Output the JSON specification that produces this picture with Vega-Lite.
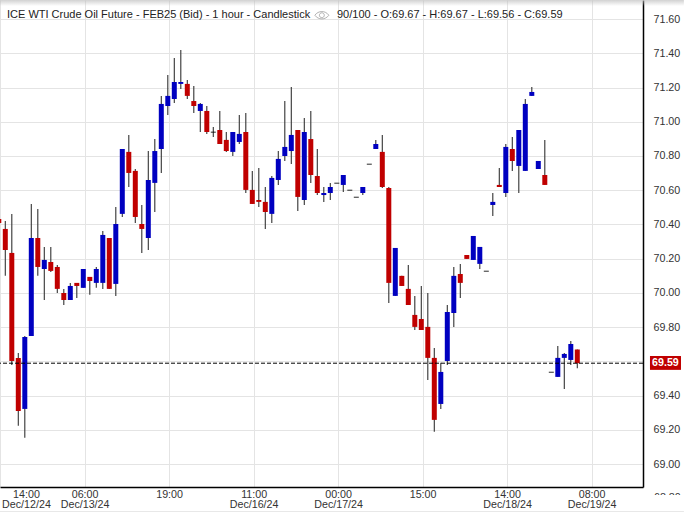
{
"$schema":"https://vega.github.io/schema/vega-lite/v6.json",
"width":643,"height":487,
"autosize":{"type":"none"},
"padding":{"left":0,"top":0,"right":41,"bottom":25},
"background":"white",
"config":{"view":{"stroke":null},"font":"Liberation Sans"},
"datasets":{
"candles":[
{"i":0,"o":70.432,"h":70.432,"l":70.409,"c":70.409},
{"i":1,"o":70.374,"h":70.421,"l":70.100,"c":70.251},
{"i":2,"o":70.234,"h":70.462,"l":69.580,"c":69.603},
{"i":3,"o":69.621,"h":69.650,"l":69.224,"c":69.311},
{"i":4,"o":69.323,"h":69.749,"l":69.154,"c":69.743},
{"i":5,"o":69.749,"h":70.520,"l":69.749,"c":70.321},
{"i":6,"o":70.321,"h":70.491,"l":70.100,"c":70.152},
{"i":7,"o":70.140,"h":70.269,"l":69.959,"c":70.193},
{"i":8,"o":70.181,"h":70.269,"l":70.123,"c":70.129},
{"i":9,"o":70.152,"h":70.164,"l":70.000,"c":70.024},
{"i":10,"o":70.000,"h":70.024,"l":69.930,"c":69.959},
{"i":11,"o":69.959,"h":70.059,"l":69.959,"c":70.041},
{"i":12,"o":70.059,"h":70.059,"l":69.971,"c":70.041},
{"i":13,"o":70.030,"h":70.140,"l":70.030,"c":70.140},
{"i":14,"o":70.094,"h":70.094,"l":69.989,"c":70.070},
{"i":15,"o":70.059,"h":70.152,"l":70.030,"c":70.140},
{"i":16,"o":70.059,"h":70.362,"l":70.024,"c":70.339},
{"i":17,"o":70.321,"h":70.321,"l":70.024,"c":70.024},
{"i":18,"o":70.053,"h":70.502,"l":69.983,"c":70.403},
{"i":19,"o":70.462,"h":70.841,"l":70.444,"c":70.841},
{"i":20,"o":70.824,"h":70.923,"l":70.619,"c":70.701},
{"i":21,"o":70.713,"h":70.724,"l":70.409,"c":70.444},
{"i":22,"o":70.403,"h":70.514,"l":70.234,"c":70.374},
{"i":23,"o":70.321,"h":70.829,"l":70.251,"c":70.660},
{"i":24,"o":70.643,"h":70.899,"l":70.473,"c":70.829},
{"i":25,"o":70.841,"h":71.151,"l":70.701,"c":71.104},
{"i":26,"o":71.092,"h":71.273,"l":71.040,"c":71.151},
{"i":27,"o":71.133,"h":71.372,"l":71.110,"c":71.232},
{"i":28,"o":71.221,"h":71.419,"l":71.191,"c":71.232},
{"i":29,"o":71.221,"h":71.244,"l":71.133,"c":71.151},
{"i":30,"o":71.121,"h":71.209,"l":71.051,"c":71.092},
{"i":31,"o":71.063,"h":71.110,"l":70.940,"c":71.104},
{"i":32,"o":71.063,"h":71.092,"l":70.929,"c":70.940},
{"i":33,"o":70.939,"h":70.969,"l":70.911,"c":70.939},
{"i":34,"o":70.952,"h":71.063,"l":70.870,"c":70.870},
{"i":35,"o":70.894,"h":70.940,"l":70.824,"c":70.829},
{"i":36,"o":70.824,"h":70.940,"l":70.800,"c":70.940},
{"i":37,"o":70.882,"h":71.040,"l":70.870,"c":70.929},
{"i":38,"o":70.940,"h":71.051,"l":70.584,"c":70.602},
{"i":39,"o":70.602,"h":70.713,"l":70.520,"c":70.520},
{"i":40,"o":70.543,"h":70.730,"l":70.502,"c":70.532},
{"i":41,"o":70.532,"h":70.619,"l":70.374,"c":70.473},
{"i":42,"o":70.462,"h":70.683,"l":70.409,"c":70.672},
{"i":43,"o":70.660,"h":70.829,"l":70.631,"c":70.783},
{"i":44,"o":70.800,"h":71.121,"l":70.771,"c":70.853},
{"i":45,"o":70.829,"h":71.203,"l":70.753,"c":70.923},
{"i":46,"o":70.952,"h":70.952,"l":70.479,"c":70.561},
{"i":47,"o":70.543,"h":71.022,"l":70.514,"c":70.940},
{"i":48,"o":70.899,"h":71.063,"l":70.643,"c":70.689},
{"i":49,"o":70.683,"h":70.841,"l":70.572,"c":70.584},
{"i":50,"o":70.572,"h":70.619,"l":70.532,"c":70.584},
{"i":51,"o":70.584,"h":70.643,"l":70.543,"c":70.619},
{"i":52,"o":70.641,"h":70.641,"l":70.641,"c":70.641},
{"i":53,"o":70.631,"h":70.689,"l":70.590,"c":70.689},
{"i":54,"o":70.600,"h":70.600,"l":70.600,"c":70.600},
{"i":55,"o":70.559,"h":70.559,"l":70.559,"c":70.559},
{"i":56,"o":70.584,"h":70.619,"l":70.572,"c":70.619},
{"i":57,"o":70.752,"h":70.752,"l":70.752,"c":70.752},
{"i":58,"o":70.841,"h":70.894,"l":70.841,"c":70.870},
{"i":59,"o":70.824,"h":70.923,"l":70.613,"c":70.619},
{"i":60,"o":70.613,"h":70.619,"l":69.942,"c":70.059},
{"i":61,"o":69.983,"h":70.263,"l":69.983,"c":70.263},
{"i":62,"o":70.100,"h":70.100,"l":70.041,"c":70.041},
{"i":63,"o":70.024,"h":70.164,"l":69.930,"c":69.930},
{"i":64,"o":69.872,"h":69.983,"l":69.784,"c":69.802},
{"i":65,"o":69.848,"h":70.041,"l":69.784,"c":69.784},
{"i":66,"o":69.802,"h":70.000,"l":69.492,"c":69.621},
{"i":67,"o":69.621,"h":69.679,"l":69.189,"c":69.259},
{"i":68,"o":69.352,"h":69.592,"l":69.323,"c":69.539},
{"i":69,"o":69.603,"h":69.930,"l":69.580,"c":69.889},
{"i":70,"o":69.883,"h":70.152,"l":69.802,"c":70.100},
{"i":71,"o":70.111,"h":70.170,"l":69.971,"c":70.059},
{"i":72,"o":70.222,"h":70.222,"l":70.199,"c":70.199},
{"i":73,"o":70.193,"h":70.333,"l":70.193,"c":70.333},
{"i":74,"o":70.170,"h":70.269,"l":70.140,"c":70.269},
{"i":75,"o":70.127,"h":70.127,"l":70.127,"c":70.127},
{"i":76,"o":70.514,"h":70.584,"l":70.450,"c":70.532},
{"i":77,"o":70.631,"h":70.730,"l":70.619,"c":70.619},
{"i":78,"o":70.584,"h":70.870,"l":70.561,"c":70.853},
{"i":79,"o":70.841,"h":70.911,"l":70.713,"c":70.771},
{"i":80,"o":70.742,"h":70.952,"l":70.584,"c":70.952},
{"i":81,"o":70.713,"h":71.133,"l":70.713,"c":71.104},
{"i":82,"o":71.151,"h":71.203,"l":71.151,"c":71.174},
{"i":83,"o":70.724,"h":70.771,"l":70.724,"c":70.771},
{"i":84,"o":70.689,"h":70.894,"l":70.631,"c":70.631},
{"i":85,"o":69.537,"h":69.537,"l":69.537,"c":69.537},
{"i":86,"o":69.510,"h":69.691,"l":69.510,"c":69.621},
{"i":87,"o":69.621,"h":69.650,"l":69.440,"c":69.644},
{"i":88,"o":69.609,"h":69.720,"l":69.580,"c":69.702},
{"i":89,"o":69.67,"h":69.67,"l":69.56,"c":69.59}
],
"header":[
{"i":1.26,"p":71.623,"label":"ICE WTI Crude Oil Future - FEB25 (Bid) - 1 hour - Candlestick"},
{"i":52.03,"p":71.623,"label":"90/100 - O:69.67 - H:69.67 - L:69.56 - C:69.59"}
]
},
"resolve":{"axis":{"x":"independent","y":"independent"}},
"layer":[
{"data":{"values":[{"i0":0,"i1":105.4,"p0":71.711,"p1":71.676}]},
 "mark":{"type":"rect","clip":false,"fill":{"gradient":"linear","x1":0,"y1":0,"x2":0,"y2":1,"stops":[{"offset":0,"color":"rgba(190,190,190,0.7)"},{"offset":1,"color":"rgba(190,190,190,0)"}]}},
 "encoding":{
  "x":{"field":"i0","type":"quantitative","axis":null,"scale":{"domain":[0.1846,99.108],"nice":false,"zero":false,"padding":0}},
  "x2":{"field":"i1"},
  "y":{"field":"p0","type":"quantitative","axis":null,"scale":{"domain":[68.867,71.711],"nice":false,"zero":false,"padding":0}},
  "y2":{"field":"p1"}}},
{"data":{"name":"candles"},
 "mark":{"type":"rule","color":"#333333","strokeWidth":1.1,"clip":true},
 "encoding":{
  "x":{"field":"i","type":"quantitative","title":null,"axis":{"orient":"bottom","values":[0.2,13.2,26.2,39.2,52.2,65.2,78.2,91.2],"grid":true,"gridColor":"#e4e4e4","gridWidth":1,"labels":false,"ticks":false,"domainColor":"#000000","domainWidth":1.5,"title":null}},
  "y":{"field":"l","type":"quantitative","title":null,"axis":{"orient":"right","values":[69,69.2,69.4,69.6,69.8,70,70.2,70.4,70.6,70.8,71,71.2,71.4,71.6],"format":".2f","grid":true,"gridColor":"#e4e4e4","gridWidth":1,"ticks":false,"domainColor":"#000000","domainWidth":1.5,"labelFont":"Liberation Sans","labelFontSize":10.7,"labelColor":"#333333","labelPadding":10,"labelOverlap":false,"labelBound":false,"labelFlush":false,"title":null}},
  "y2":{"field":"h"}}},
{"data":{"name":"candles"},
 "transform":[{"filter":"datum.o!=datum.c"}],
 "mark":{"type":"bar","width":5,"clip":true},
 "encoding":{
  "x":{"field":"i","type":"quantitative","title":null,"axis":{"orient":"bottom","values":[4.18,13.2,26.2,39.2,52.2,65.2,78.2,91.2],"grid":false,"ticks":false,"domain":false,"labelFont":"Liberation Sans","labelFontSize":10.7,"labelColor":"#333333","labelPadding":2,"labelLineHeight":10.5,"labelBaseline":"top","labelOverlap":false,"labelBound":false,"labelFlush":false,"title":null,
   "labelExpr":"datum.value<5?['14:00','Dec/12/24']:datum.value<14?['06:00','Dec/13/24']:datum.value<27?'19:00':datum.value<40?['11:00','Dec/16/24']:datum.value<53?['00:00','Dec/17/24']:datum.value<66?'15:00':datum.value<79?['14:00','Dec/18/24']:['08:00','Dec/19/24']"}},
  "y":{"field":"o","type":"quantitative","axis":null},
  "y2":{"field":"c"},
  "color":{"condition":{"test":"datum.c>datum.o","value":"#0000c0"},"value":"#c00000"}}},
{"data":{"name":"candles"},
 "transform":[{"filter":"datum.o==datum.c"}],
 "mark":{"type":"tick","orient":"horizontal","size":5,"thickness":1.2,"color":"#000000","clip":true},
 "encoding":{
  "x":{"field":"i","type":"quantitative","axis":null},
  "y":{"field":"c","type":"quantitative","axis":null}}},
{"data":{"values":[{"price":69.59}]},
 "mark":{"type":"rule","color":"#000000","strokeDash":[4,2],"strokeWidth":1},
 "encoding":{"y":{"field":"price","type":"quantitative","axis":null}}},
{"data":{"name":"header"},
 "mark":{"type":"text","align":"left","baseline":"middle","font":"Liberation Sans","fontSize":11,"color":"#222222"},
 "encoding":{
  "x":{"field":"i","type":"quantitative","axis":null},
  "y":{"field":"p","type":"quantitative","axis":null},
  "text":{"field":"label"}}},
{"data":{"values":[{"i":49.7,"p":71.622,"icon":"eye"}]},
 "mark":{"type":"point","shape":"M-1 0C-0.5 -0.7 0.5 -0.7 1 0C0.5 0.7 -0.5 0.7 -1 0ZM-0.35 0A0.35 0.35 0 1 0 0.35 0A0.35 0.35 0 1 0 -0.35 0Z","size":196,"filled":false,"stroke":"#777777","strokeWidth":0.8},
 "encoding":{
  "x":{"field":"i","type":"quantitative","axis":null},
  "y":{"field":"p","type":"quantitative","axis":null}}},
{"data":{"values":[{"i0":100.18,"i1":104.95,"p0":69.632,"p1":69.551}]},
 "mark":{"type":"rect","color":"#c00000","clip":false},
 "encoding":{
  "x":{"field":"i0","type":"quantitative","axis":null},
  "x2":{"field":"i1"},
  "y":{"field":"p0","type":"quantitative","axis":null},
  "y2":{"field":"p1"}}},
{"data":{"values":[{"i":102.56,"p":69.59,"label":"69.59"}]},
 "mark":{"type":"text","align":"center","baseline":"middle","font":"Liberation Sans","fontSize":10.7,"fontWeight":"bold","color":"#ffffff"},
 "encoding":{
  "x":{"field":"i","type":"quantitative","axis":null},
  "y":{"field":"p","type":"quantitative","axis":null},
  "text":{"field":"label"}}},
{"data":{"values":[{"i":100.8,"p":68.80,"label":"68.80"}]},
 "mark":{"type":"text","align":"left","baseline":"middle","font":"Liberation Sans","fontSize":10.7,"color":"#333333"},
 "encoding":{
  "x":{"field":"i","type":"quantitative","axis":null},
  "y":{"field":"p","type":"quantitative","axis":null},
  "text":{"field":"label"}}},
{"data":{"values":[{"i0":99.5,"i1":105.4,"p0":68.82,"p1":68.70}]},
 "mark":{"type":"rect","color":"#ffffff","clip":false},
 "encoding":{
  "x":{"field":"i0","type":"quantitative","axis":null},
  "x2":{"field":"i1"},
  "y":{"field":"p0","type":"quantitative","axis":null},
  "y2":{"field":"p1"}}},
{"data":{"values":[{"i0":0.1846,"i1":105.4,"p0":68.727,"p1":68.70}]},
 "mark":{"type":"rect","color":"#e8e8e8","clip":false},
 "encoding":{
  "x":{"field":"i0","type":"quantitative","axis":null},
  "x2":{"field":"i1"},
  "y":{"field":"p0","type":"quantitative","axis":null},
  "y2":{"field":"p1"}}}
]
}
